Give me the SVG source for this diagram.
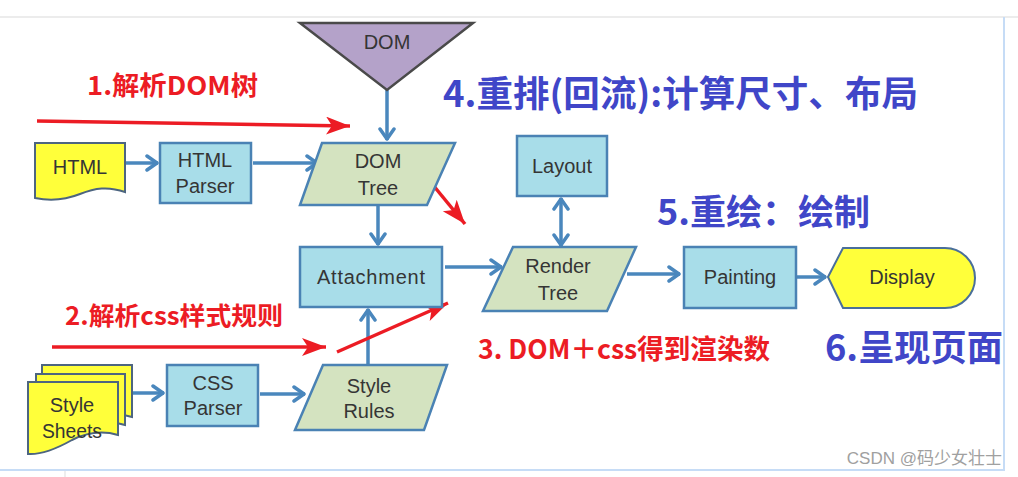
<svg xmlns="http://www.w3.org/2000/svg" width="1018" height="477" viewBox="0 0 1018 477">
<defs>
<style>
.box{fill:#a8dde9;stroke:#4a82b4;stroke-width:2.5}
.para{fill:#d4e3c0;stroke:#4a82b4;stroke-width:2.5}
.doc{fill:#ffff3a;stroke:#4d6580;stroke-width:2}
.lbl{font-family:"Liberation Sans",Arial,sans-serif;font-size:20px;fill:#353535;text-anchor:middle}
.conn{stroke:#4a87bd;stroke-width:3.5;fill:none}
.red{stroke:#ec1c24;stroke-width:3.5;fill:none}
.rt{font-family:"Noto Sans CJK SC","Liberation Sans",sans-serif;font-weight:bold;fill:#ec1c24}
.bt{font-family:"Noto Sans CJK SC","Liberation Sans",sans-serif;font-weight:bold;fill:#4046c8}
</style>
<marker id="ab" markerUnits="userSpaceOnUse" markerWidth="18" markerHeight="20" refX="14" refY="9" orient="auto-start-reverse">
<path d="M3,2 L13,9 L3,16" fill="none" stroke="#4a87bd" stroke-width="3.5" stroke-linecap="round" stroke-linejoin="round"/>
</marker>
<marker id="ar" markerUnits="userSpaceOnUse" markerWidth="28" markerHeight="20" refX="24" refY="9" orient="auto">
<path d="M0,0 L24,9 L0,18 L6,9 Z" fill="#ec1c24"/>
</marker>
</defs>
<rect width="1018" height="477" fill="#ffffff"/>
<line x1="0" y1="17" x2="1018" y2="17" stroke="#ececec" stroke-width="2"/>
<line x1="1004" y1="17" x2="1004" y2="471" stroke="#c6dcf6" stroke-width="2"/>
<line x1="0" y1="470" x2="1005" y2="470" stroke="#c6dcf6" stroke-width="2"/>
<line x1="65" y1="471" x2="65" y2="477" stroke="#dddddd" stroke-width="1"/>

<g id="connectors">
<line class="conn" x1="387" y1="90" x2="387" y2="140" marker-end="url(#ab)"/>
<line class="conn" x1="126" y1="163" x2="158" y2="163" marker-end="url(#ab)"/>
<line class="conn" x1="253" y1="163" x2="318" y2="163" marker-end="url(#ab)"/>
<line class="conn" x1="378" y1="205" x2="378" y2="245" marker-end="url(#ab)"/>
<line class="conn" x1="133" y1="393" x2="164" y2="393" marker-end="url(#ab)"/>
<line class="conn" x1="260" y1="394" x2="305" y2="394" marker-end="url(#ab)"/>
<line class="conn" x1="368" y1="365" x2="368" y2="309" marker-end="url(#ab)"/>
<line class="conn" x1="445" y1="267" x2="502" y2="267" marker-end="url(#ab)"/>
<line class="conn" x1="561" y1="198" x2="561" y2="246" marker-start="url(#ab)" marker-end="url(#ab)"/>
<line class="conn" x1="627" y1="274" x2="680" y2="274" marker-end="url(#ab)"/>
<line class="conn" x1="797" y1="277" x2="826" y2="277" marker-end="url(#ab)"/>
<line class="red" x1="37" y1="121" x2="350" y2="126" marker-end="url(#ar)"/>
<line class="red" x1="419" y1="168" x2="465" y2="224" marker-end="url(#ar)"/>
<line class="red" x1="52" y1="347" x2="326" y2="347" marker-end="url(#ar)"/>
<line class="red" x1="337" y1="352" x2="448" y2="303" marker-end="url(#ar)"/>
</g>

<g id="dom">
<polygon points="300,23 473,23 387,90" fill="#b4a2c9" stroke="#4a4a4a" stroke-width="2.5"/>
<text class="lbl" x="387" y="49">DOM</text>
</g>
<g id="html">
<path class="doc" d="M35,143 H125 V192 C108,186 95,188 80,194 C65,200 50,201 35,198 Z" stroke="#333333"/>
<text class="lbl" x="80" y="174">HTML</text>
</g>
<g id="html-parser">
<rect class="box" x="160" y="143" width="91" height="60"/>
<text class="lbl" x="205" y="167">HTML</text>
<text class="lbl" x="205" y="193">Parser</text>
</g>
<g id="dom-tree">
<polygon class="para" points="322,143 455,143 427,205 300,205"/>
<text class="lbl" x="378" y="168">DOM</text>
<text class="lbl" x="378" y="195">Tree</text>
</g>
<g id="attachment">
<rect class="box" x="300" y="247" width="142" height="60"/>
<text class="lbl" x="371" y="284" textLength="108">Attachment</text>
</g>
<g id="style-sheets">
<path class="doc" d="M42,365 H132 V417 C115,412 100,415 86,422 C70,430 56,433 42,432 Z"/>
<path class="doc" d="M36,374 H125 V425 C108,420 93,423 79,430 C63,438 50,441 36,440 Z"/>
<path class="doc" d="M28,382 H118 V435 C101,430 86,433 72,440 C56,449 42,455 28,454 Z"/>
<text class="lbl" x="72" y="412" font-size="19">Style</text>
<text class="lbl" x="72" y="438" font-size="19" textLength="60" lengthAdjust="spacingAndGlyphs">Sheets</text>
</g>
<g id="css-parser">
<rect class="box" x="167" y="365" width="91" height="61"/>
<text class="lbl" x="213" y="390">CSS</text>
<text class="lbl" x="213" y="415">Parser</text>
</g>
<g id="style-rules">
<polygon class="para" points="323,365 447,365 424,430 295,430"/>
<text class="lbl" x="369" y="393">Style</text>
<text class="lbl" x="369" y="418">Rules</text>
</g>
<g id="layout">
<rect class="box" x="517" y="136" width="90" height="60"/>
<text class="lbl" x="562" y="173">Layout</text>
</g>
<g id="render-tree">
<polygon class="para" points="513,247 636,247 607,311 483,311"/>
<text class="lbl" x="558" y="273">Render</text>
<text class="lbl" x="558" y="300">Tree</text>
</g>
<g id="painting">
<rect class="box" x="684" y="247" width="112" height="61"/>
<text class="lbl" x="740" y="284">Painting</text>
</g>
<g id="display">
<path d="M828,277 L843,248 H945 A30,30 0 0 1 945,308 H843 Z" fill="#ffff3a" stroke="#4a6f9a" stroke-width="2"/>
<text class="lbl" x="902" y="284">Display</text>
</g>

<g id="annotations">
<text class="rt" x="87" y="95" font-size="26" textLength="171" lengthAdjust="spacingAndGlyphs">1.解析DOM树</text>
<text class="rt" x="65" y="325" font-size="25" textLength="218" lengthAdjust="spacingAndGlyphs">2.解析css样式规则</text>
<text class="rt" x="478" y="359" font-size="27" textLength="292" lengthAdjust="spacingAndGlyphs">3. DOM＋css得到渲染数</text>
<text class="bt" x="443" y="107" font-size="36" textLength="475" lengthAdjust="spacingAndGlyphs">4.重排(回流):计算尺寸、布局</text>
<text class="bt" x="657" y="225" font-size="35" textLength="213" lengthAdjust="spacingAndGlyphs">5.重绘：绘制</text>
<text class="bt" x="825" y="361" font-size="36" textLength="178" lengthAdjust="spacingAndGlyphs">6.呈现页面</text>
<text x="1002" y="464" font-family="'Liberation Sans','Noto Sans CJK SC',sans-serif" font-size="17" fill="#a0a0a0" text-anchor="end">CSDN @码少女壮士</text>
</g>
</svg>
